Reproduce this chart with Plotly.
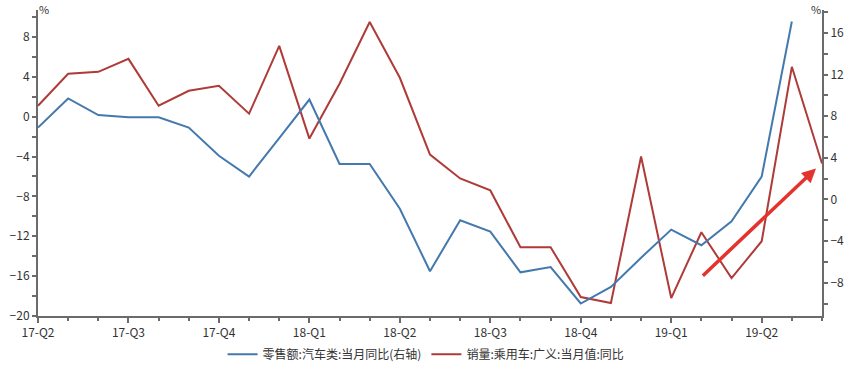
import plotly.graph_objects as go

months = list(range(27))  # 2017-04 .. 2019-06
tick_pos = [0, 3, 6, 9, 12, 15, 18, 21, 24]
tick_text = ["17-Q2", "17-Q3", "17-Q4", "18-Q1", "18-Q2", "18-Q3", "18-Q4", "19-Q1", "19-Q2"]

# 销量:乘用车:广义:当月值:同比 (left axis)
red_vals = [1.1, 4.3, 4.5, 5.8, 1.1, 2.6, 3.1, 0.3, 7.1, -2.2, 3.3, 9.5, 3.9, -3.8,
            -6.2, -7.4, -13.1, -13.1, -18.1, -18.7, -4.0, -18.2, -11.6, -16.2, -12.5, 5.0, -4.7]
# 零售额:汽车类:当月同比 (right axis)
blue_months = list(range(26))
blue_vals = [6.9, 9.7, 8.1, 7.9, 7.9, 6.9, 4.2, 2.2, 5.9, 9.6, 3.4, 3.4, -0.9, -6.9,
             -2.0, -3.1, -7.0, -6.5, -10.0, -8.4, -5.6, -2.9, -4.4, -2.1, 2.2, 17.1]

blue_name = "零售额:汽车类:当月同比(右轴)"
red_name = "销量:乘用车:广义:当月值:同比"

BLUE = "#4479ad"
RED = "#ae3b38"
AX = "#6b6b6b"
FONT = "Noto Sans CJK SC"

fig = go.Figure()
fig.add_trace(go.Scatter(x=blue_months, y=blue_vals, name=blue_name, mode="lines",
                         line=dict(color=BLUE, width=2), yaxis="y2"))
fig.add_trace(go.Scatter(x=months, y=red_vals, name=red_name, mode="lines",
                         line=dict(color=RED, width=2), yaxis="y"))

fig.add_annotation(x=25.8, y=-5.2, ax=22.0, ay=-16.1, xref="x", yref="y", axref="x", ayref="y",
                   showarrow=True, arrowhead=2, arrowsize=0.8, arrowwidth=3.5,
                   arrowcolor="#e5322d", text="")

top_y = 1 + 10 / 318
fig.add_annotation(text="%", xref="paper", yref="paper", x=0.0, y=top_y, xanchor="left", yanchor="top",
                   showarrow=False, borderpad=0, font=dict(family=FONT, size=11, color="#333"))
fig.add_annotation(text="%", xref="paper", yref="paper", x=1.0, y=top_y, xanchor="right", yanchor="top",
                   showarrow=False, borderpad=0, font=dict(family=FONT, size=11, color="#333"))

fig.update_layout(
    width=868, height=379,
    margin=dict(l=28, r=46, t=10, b=51),
    plot_bgcolor="white", paper_bgcolor="white",
    font=dict(family=FONT, size=12, color="#333"),
    showlegend=True,
    legend=dict(orientation="h", x=0.495, xanchor="center", y=-0.125, yanchor="middle",
                font=dict(family=FONT, size=12, color="#333"), itemwidth=30,
                traceorder="normal"),
    xaxis=dict(range=[0, 26], tickvals=tick_pos, ticktext=tick_text, showgrid=False, zeroline=False,
               showline=True, linecolor=AX, linewidth=2, ticks="outside", ticklen=5, tickcolor=AX,
               tickwidth=1.5, tickfont=dict(size=12, color="#333"),
               minor=dict(tickvals=[m for m in months if m not in tick_pos], ticks="outside",
                          ticklen=3, tickcolor=AX, tickwidth=1.5)),
    yaxis=dict(range=[-20, 10.7], tickvals=[-20, -16, -12, -8, -4, 0, 4, 8], showgrid=False,
               zeroline=False, showline=True, linecolor=AX, linewidth=2, ticks="outside", ticklen=4,
               tickcolor=AX, tickwidth=1.5, tickfont=dict(size=12, color="#333"),
               minor=dict(tickvals=[-18, -14, -10, -6, -2, 2, 6, 10], ticks="outside", ticklen=4,
                          tickcolor=AX, tickwidth=1.5)),
    yaxis2=dict(range=[-11.2, 18.2], tickvals=[-8, -4, 0, 4, 8, 12, 16], overlaying="y", side="right",
                showgrid=False, zeroline=False, showline=True, linecolor=AX, linewidth=2,
                ticks="outside", ticklen=4, tickcolor=AX, tickwidth=1.5,
                tickfont=dict(size=12, color="#333"),
                minor=dict(tickvals=[-10, -6, -2, 2, 6, 10, 14, 18], ticks="outside", ticklen=4,
                           tickcolor=AX, tickwidth=1.5)),
)

fig.write_html("out.html")
